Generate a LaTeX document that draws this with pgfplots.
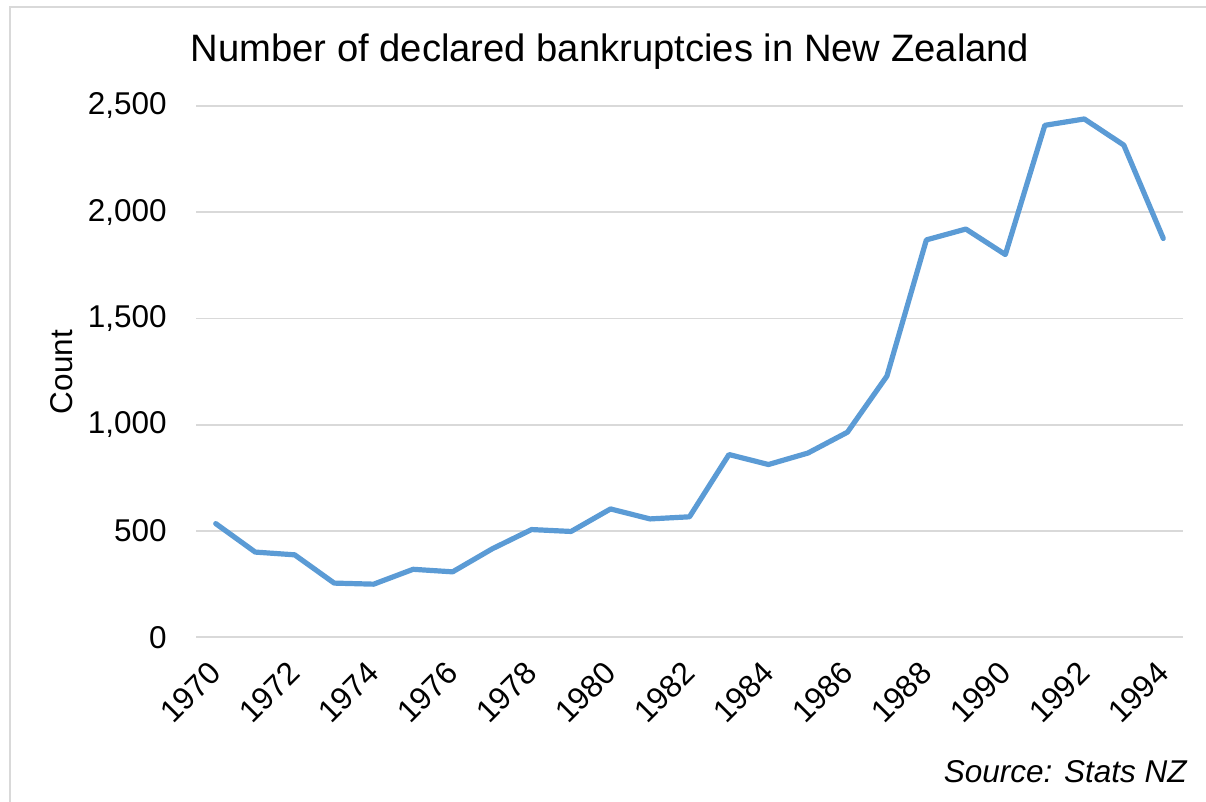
\documentclass[border=0pt]{standalone}
\usepackage{pgfplots}
\pgfplotsset{compat=1.18}
\usepackage{fontspec}
\setmainfont{Liberation Sans}

\definecolor{excelblue}{HTML}{5B9BD5}
\definecolor{gridgray}{HTML}{D9D9D9}
\definecolor{framegray}{HTML}{D9D9D9}

\newcommand{\ticksize}{\fontsize{15.75bp}{18bp}\selectfont}

\begin{document}
\begin{tikzpicture}
  \path[use as bounding box] (0,0) rectangle (603bp,401bp);
  % chart frame (left and top edges visible)
  \draw[framegray, line width=1.2bp] (5bp,0) -- (5bp,397.5bp) -- (603bp,397.5bp);

  \begin{axis}[
    at={(98bp,82.35bp)}, anchor=south west,
    scale only axis,
    width=493.5bp, height=265.65bp,
    xmin=1969.5, xmax=1994.5,
    ymin=0, ymax=2500,
    axis line style={draw=none},
    major tick length=0pt,
    ymajorgrids,
    grid style={gridgray, line width=0.8bp},
    xtick={1970,1972,...,1994},
    xticklabels={1970,1972,1974,1976,1978,1980,1982,1984,1986,1988,1990,1992,1994},
    ytick={0,500,...,2500},
    /pgf/number format/assume math mode=true,
    /pgf/number format/1000 sep={,},
    ticklabel style={font=\ticksize},
    yticklabel style={inner sep=0pt, anchor=east, xshift=-14.5bp},
    xticklabel style={xshift=0bp, yshift=-15bp, rotate=45, anchor=east, inner sep=0pt},
    clip=false,
  ]
    \addplot[excelblue, line width=2.6bp, line join=round, line cap=round] coordinates {
      (1970,535) (1971,401) (1972,388) (1973,255) (1974,250)
      (1975,320) (1976,308) (1977,416) (1978,507) (1979,498)
      (1980,604) (1981,557) (1982,567) (1983,860) (1984,813)
      (1985,867) (1986,965) (1987,1229) (1988,1870) (1989,1921)
      (1990,1801) (1991,2409) (1992,2439) (1993,2316) (1994,1877)
    };
  \end{axis}

  \node[anchor=base, inner sep=0pt, font=\fontsize{19.1bp}{22bp}\selectfont] at (305bp,370bp)
    {Number of declared bankruptcies in New Zealand};
  \node[rotate=90, inner sep=0pt, font=\ticksize] at (31bp,215bp) {Count};
  \node[anchor=base east, inner sep=0pt, font=\ticksize\itshape] at (593.5bp,10bp)
    {Source: Stats NZ};
\end{tikzpicture}
\end{document}
